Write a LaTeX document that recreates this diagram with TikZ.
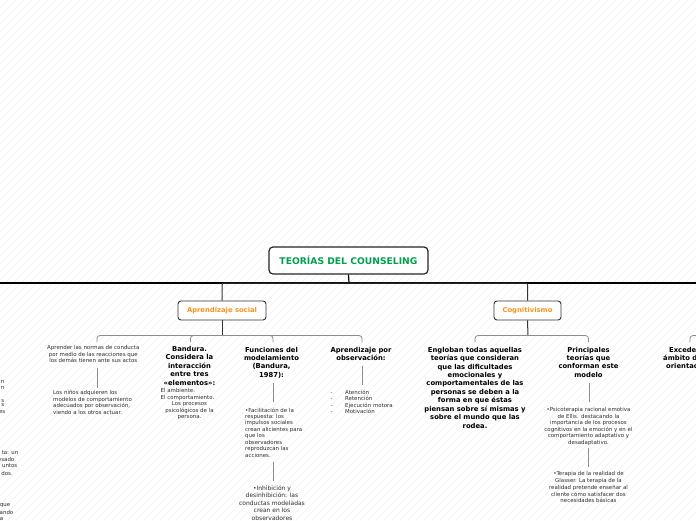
\documentclass[tikz,border=0pt]{standalone}
\usepackage{fontspec}
\setmainfont{DejaVu Sans}
\definecolor{rootgreen}{RGB}{0,160,80}
\definecolor{orng}{RGB}{247,148,29}
\definecolor{txt}{RGB}{45,45,45}
\definecolor{stripe}{RGB}{243,243,243}
\definecolor{conn}{RGB}{140,140,140}
\begin{document}
\begin{tikzpicture}[x=1pt,y=-1pt,
  rootbox/.style={draw=black!85,line width=1.2pt,rounded corners=4pt,fill=white,
    minimum width=159pt,minimum height=27pt,inner sep=0pt,text=rootgreen,
    font=\fontsize{9.2}{10}\selectfont\bfseries},
  topicbox/.style={draw=black!80,line width=0.9pt,rounded corners=3pt,fill=white,
    minimum height=19pt,inner sep=0pt,text=orng,font=\fontsize{6.8}{7}\selectfont\bfseries},
  boldtxt/.style={inner sep=0pt,align=center,text=black,anchor=north},
  smalltxt/.style={inner sep=0pt,text=txt,font=\fontsize{5.45}{6.5}\selectfont},
  mainline/.style={draw=black,line width=1.2pt},
  darkline/.style={draw=black!80,line width=1pt},
  subline/.style={draw=conn,line width=0.8pt,rounded corners=3pt},
  stripeline/.style={draw=stripe,line width=0.7pt}
]
\useasboundingbox (0,0) rectangle (696,520);
\fill[white] (0,0) rectangle (696,520);
\begin{scope}
\clip (0,0) rectangle (696,520);
\foreach \k in {-520,-512,...,696} \draw[stripeline] (\k,520) -- (\k+520,0);
\end{scope}

% root and main line
\node[rootbox] (root) at (348.5,260.5) {TEORÍAS DEL COUNSELING};
\coordinate (hub) at (349,283);
\coordinate (lineL) at (0,283);
\coordinate (lineR) at (696,283);
\draw[mainline] (lineL) -- (lineR);
\draw[mainline] (root.south) -- (hub);

% level 1
\node[topicbox,minimum width=88pt] (as) at (222,310.5) {Aprendizaje social};
\node[topicbox,minimum width=67pt] (cog) at (527.5,310.5) {Cognitivismo};
\draw[darkline,rounded corners=2pt] (hub) -| (as.north);
\draw[darkline,rounded corners=2pt] (hub) -| (cog.north);

% brackets
\coordinate (asb) at (222,335.5);
\coordinate (cogb) at (528,335.5);
\draw[darkline] (as.south) -- (asb);
\draw[darkline] (cog.south) -- (cogb);
\coordinate (d1) at (97,342);
\coordinate (d2) at (190.5,342);
\coordinate (d3) at (273,342);
\coordinate (d4) at (362,342);
\coordinate (d5) at (475,342);
\coordinate (d6) at (588.5,342);
\coordinate (d7) at (690,342);
\coordinate (rb) at (700,335.5);
\foreach \d in {d1,d2,d3,d4} \draw[subline] (asb) -| (\d);
\foreach \d in {d5,d6} \draw[subline] (cogb) -| (\d);
\draw[subline] (rb) -| (d7);

% child 1
\node[smalltxt,align=center,anchor=north] (n1) at (93.3,345.5)
  {Aprender las normas de conducta\\por medio de las reacciones que\\los demás tienen ante sus actos};
\node[smalltxt,align=left,anchor=north west] (n1b) at (53,390.5)
  {Los niños adquieren los\\modelos de comportamiento\\adecuados por observación,\\viendo a los otros actuar.};
\coordinate (v1a) at (97,368);
\coordinate (v1b) at (97,388);
\draw[subline] (v1a) -- (v1b);

% child 2
\node[boldtxt,font=\fontsize{6.8}{8.5}\selectfont\bfseries] (n2) at (189.5,345.8)
  {Bandura.\\Considera la\\interacción\\entre tres\\«elementos»:};
\node[smalltxt,align=left,anchor=north west] (n2b) at (160.5,388.5)
  {El ambiente.\\El comportamiento.};
\node[smalltxt,align=center,anchor=north] (n2c) at (189.5,401.5)
  {Los procesos\\psicológicos de la\\persona.};

% child 3
\node[boldtxt,font=\fontsize{6.8}{8.4}\selectfont\bfseries] (n3) at (271.5,346.8)
  {Funciones del\\modelamiento\\(Bandura,\\1987):};
\node[smalltxt,align=left,anchor=north west,font=\fontsize{5.45}{6.45}\selectfont] (n3b) at (245,407.5)
  {•Facilitación de la\\respuesta: los\\impulsos sociales\\crean alicientes para\\que los\\observadores\\reproduzcan las\\acciones.};
\node[smalltxt,align=center,anchor=north,font=\fontsize{6}{7.6}\selectfont] (n3c) at (272,485)
  {•Inhibición y\\desinhibición: las\\conductas modeladas\\crean en los\\observadores};
\coordinate (v3a) at (273,383);
\coordinate (v3b) at (273,402);
\coordinate (v3c) at (273,461.5);
\coordinate (v3d) at (273,481);
\draw[subline] (v3a) -- (v3b);
\draw[subline] (v3c) -- (v3d);

% child 4
\node[boldtxt,font=\fontsize{6.8}{8}\selectfont\bfseries] (n4) at (361,346.8)
  {Aprendizaje por\\observación:};
\node[smalltxt,align=left,anchor=north west] (n4b) at (330.5,389.5)
  {\makebox[14.5pt][l]{-}Atención\\\makebox[14.5pt][l]{-}Retención\\\makebox[14.5pt][l]{-}Ejecución motora\\\makebox[14.5pt][l]{-}Motivación};
\coordinate (v4a) at (362,366);
\coordinate (v4b) at (362,385);
\draw[subline] (v4a) -- (v4b);

% child 5
\node[boldtxt,font=\fontsize{6.8}{8.45}\selectfont\bfseries] (n5) at (475,346.8)
  {Engloban todas aquellas\\teorías que consideran\\que las dificultades\\emocionales y\\comportamentales de las\\personas se deben a la\\forma en que éstas\\piensan sobre sí mismas y\\sobre el mundo que las\\rodea.};

% child 6
\node[boldtxt,font=\fontsize{6.8}{8.3}\selectfont\bfseries] (n6) at (588.5,346.8)
  {Principales\\teorías que\\conforman este\\modelo};
\node[smalltxt,align=center,anchor=north] (n6b) at (588.5,407.5)
  {•Psicoterapia racional emotiva\\de Ellis. destacando la\\importancia de los procesos\\cognitivos en la emoción y en el\\comportamiento adaptativo y\\desadaptativo.};
\node[smalltxt,align=center,anchor=north,font=\fontsize{5.45}{6.9}\selectfont] (n6c) at (588.5,471)
  {•Terapia de la realidad de\\Glasser. La terapia de la\\realidad pretende enseñar al\\cliente cómo satisfacer dos\\necesidades básicas};
\coordinate (v6a) at (589,383);
\coordinate (v6b) at (589,401.5);
\coordinate (v6c) at (588.5,448);
\coordinate (v6d) at (588.5,467);
\draw[subline] (v6a) -- (v6b);
\draw[subline] (v6c) -- (v6d);

% child 7 (cut at right edge)
\begin{scope}
\clip (0,0) rectangle (696,520);
\node[inner sep=0pt,anchor=west,font=\fontsize{6.8}{8}\selectfont\bfseries] (n7a) at (669,350) {Excede};
\node[inner sep=0pt,anchor=west,font=\fontsize{6.8}{8}\selectfont\bfseries] (n7b) at (663,358) {ámbito d};
\node[inner sep=0pt,anchor=west,font=\fontsize{6.8}{8}\selectfont\bfseries] (n7c) at (666,366) {orientac};
\end{scope}

% fragments at left edge
\node[smalltxt,anchor=east] (f1) at (4.5,381.5) {n};
\node[smalltxt,anchor=east] (f2) at (4.5,388) {n};
\node[smalltxt,anchor=east] (f3) at (4.5,401) {s};
\node[smalltxt,anchor=east] (f4) at (4.5,405.5) {s};
\node[smalltxt,anchor=east] (f5) at (5.5,412) {es};
\node[smalltxt,anchor=east] (f6) at (18.5,453) {ta: un};
\node[smalltxt,anchor=east] (f7) at (14.5,459.5) {esado};
\node[smalltxt,anchor=east] (f8) at (17.5,466) {untos};
\node[smalltxt,anchor=east] (f9) at (13,473) {dos.};
\node[smalltxt,anchor=east] (f10) at (10.5,506) {que};
\node[smalltxt,anchor=east] (f11) at (13.5,512.5) {ando};
\node[smalltxt,anchor=east] (f12) at (3.5,519) {a};
\end{tikzpicture}
\end{document}
